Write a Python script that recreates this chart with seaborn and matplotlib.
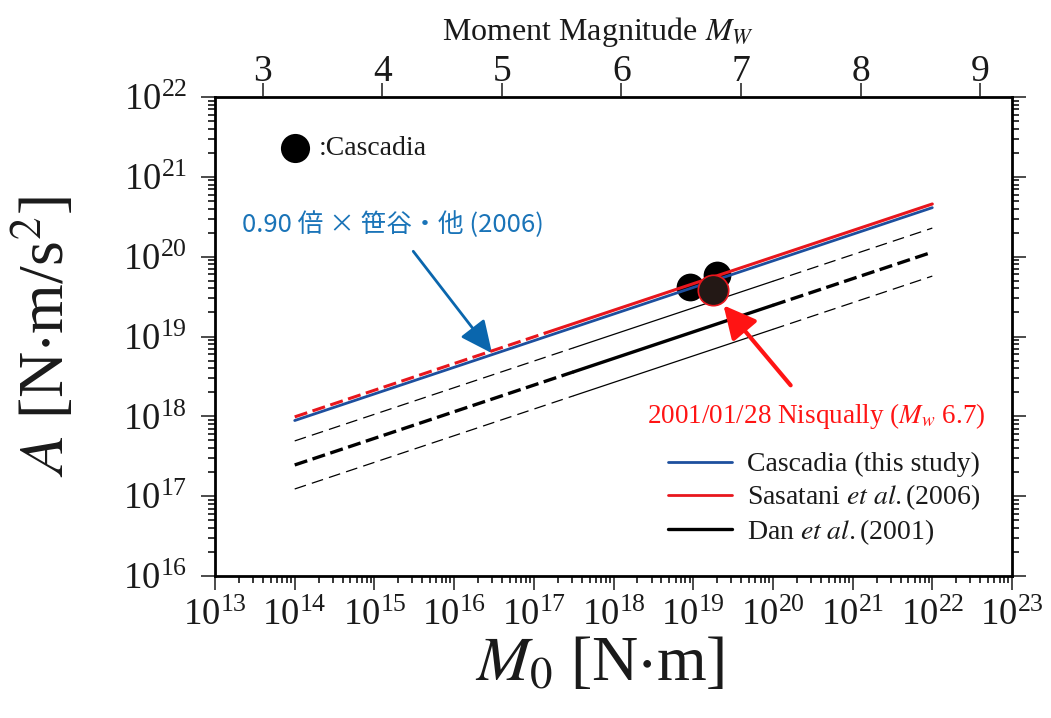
import numpy as np
import pandas as pd
import matplotlib
matplotlib.use("Agg")
import matplotlib.pyplot as plt
import seaborn as sns
from matplotlib.lines import Line2D
from matplotlib.ticker import LogLocator, NullFormatter, LogFormatterMathtext

# Seismic moment M0 [N·m] at the ends / style breaks of each scaling line,
# with the matching acceleration-source level A [N·m/s^2]
dan_m0 = [1e14, 10**17.5, 1e20, 1e22]
dan_a = [2.46e17, 3.61e18, 2.46e19, 1.14e20]
dan_hi_a = [4.92e17, 7.22e18, 4.92e19, 2.28e20]
dan_lo_a = [1.23e17, 1.81e18, 1.23e19, 5.71e19]
sasatani_m0 = [1e14, 10**17.15, 1e22]
sasatani_a = [9.84e17, 1.11e19, 4.57e20]
cascadia_m0 = [1e14, 1e22]
cascadia_a = [8.86e17, 4.11e20]

# Cascadia events
event_m0 = [9.1e18, 1.97e19]
event_a = [4.2e19, 5.9e19]
nisqually_m0 = [1.76e19]
nisqually_a = [3.8e19]

mw_ticks = [3, 4, 5, 6, 7, 8, 9]
legend_labels = ["Cascadia (this study)",
                 r"Sasatani $\it{et\ al.}$(2006)",
                 r"Dan $\it{et\ al.}$(2001)"]

BLUE = "#1d4f9e"
RED = "#e8161d"
NOTE_BLUE = "#1a74b8"
ARROW_BLUE = "#0a66ad"
DOT = "#231815"
INK = "#1a1a1a"

sns.set_theme(style="ticks")
plt.rcParams["font.family"] = ["Liberation Serif", "Noto Sans CJK JP", "DejaVu Sans"]
plt.rcParams["mathtext.fontset"] = "stix"
plt.rcParams["lines.scale_dashes"] = False
plt.rcParams["axes.edgecolor"] = "black"
plt.rcParams["text.color"] = INK

fig = plt.figure(figsize=(10.51, 7.18), dpi=100)
ax = fig.add_axes([215 / 1051, 1 - 576 / 718, (1012 - 215) / 1051, (576 - 97) / 718])
ax.set_xscale("log")
ax.set_yscale("log")
ax.set_xlim(1e13, 1e23)
ax.set_ylim(1e16, 1e22)


def segment(xs, ys, **kw):
    df = pd.DataFrame({"M0": xs, "A": ys})
    sns.lineplot(data=df, x="M0", y="A", ax=ax, estimator=None, sort=False,
                 legend=False, **kw)


thin_dash = (0, (8.5, 4.5))
thick_dash = (0, (9.5, 4.0))
red_dash = (0, (9.5, 4.0))

# Dan et al. (2001): dashed outside the fitted range, solid inside
for ys, lw, dash in [(dan_hi_a, 0.9, thin_dash), (dan_lo_a, 0.9, thin_dash),
                     (dan_a, 2.4, thick_dash)]:
    segment(dan_m0[0:2], ys[0:2], color="black", lw=lw, linestyle=dash)
    segment(dan_m0[1:3], ys[1:3], color="black", lw=lw, linestyle="-")
    segment(dan_m0[2:4], ys[2:4], color="black", lw=lw, linestyle=dash)

# Cascadia events
sns.scatterplot(x=event_m0, y=event_a, ax=ax, s=400, color="black",
                edgecolor="black", linewidth=0, zorder=3, legend=False)

# Cascadia scaling and Sasatani et al. (2006)
segment(cascadia_m0, cascadia_a, color=BLUE, lw=2.0, linestyle="-", zorder=4)
segment(sasatani_m0[0:2], sasatani_a[0:2], color=RED, lw=2.2, linestyle=red_dash, zorder=4)
segment(sasatani_m0[1:3], sasatani_a[1:3], color=RED, lw=2.2, linestyle="-", zorder=4)

# 2001 Nisqually event
sns.scatterplot(x=nisqually_m0, y=nisqually_a, ax=ax, s=480, color=DOT,
                edgecolor=RED, linewidth=1.2, zorder=5, legend=False)

# symbol key
sns.scatterplot(x=[10**14.0], y=[10**21.36], ax=ax, s=440, color="black",
                linewidth=0, zorder=5, legend=False)
ax.text(10**14.3, 10**21.36, ":Cascadia", fontsize=20, va="center", ha="left",
        color=INK)

# annotations
ax.annotate("0.90 倍 × 笹谷・他 (2006)", xy=(10**16.476, 10**18.79),
            xytext=(10**15.23, 10**20.40), ha="center", va="center",
            fontsize=18.5, color=NOTE_BLUE, family=["Noto Sans CJK JP"],
            arrowprops=dict(arrowstyle="-|>,head_length=0.9,head_width=0.42",
                            color=ARROW_BLUE, lw=2.0, shrinkA=9, shrinkB=0,
                            mutation_scale=22))
ax.annotate(r"2001/01/28 Nisqually ($M_w$ 6.7)", xy=(10**19.38, 10**19.39),
            xytext=(10**20.55, 10**18.0), ha="center", va="center",
            fontsize=19.5, color="#ff1414",
            arrowprops=dict(arrowstyle="-|>,head_length=0.9,head_width=0.45",
                            color="#ff1414", lw=3.0, shrinkA=12, shrinkB=0,
                            mutation_scale=22))

# legend
handles = [Line2D([], [], color=BLUE, lw=2.0),
           Line2D([], [], color=RED, lw=2.0),
           Line2D([], [], color="black", lw=2.4)]
ax.legend(handles, legend_labels, loc="upper left",
          bbox_to_anchor=(668 / 1051, 1 - 452 / 718), bbox_transform=fig.transFigure,
          frameon=False, fontsize=20, handlelength=2.3, handletextpad=0.55,
          labelspacing=0.18, borderpad=0, borderaxespad=0)

# axes styling
for side in ["left", "right", "bottom", "top"]:
    ax.spines[side].set_linewidth(2.0)
    ax.spines[side].set_color("black")
ax.xaxis.set_major_locator(LogLocator(base=10, numticks=20))
ax.xaxis.set_minor_locator(LogLocator(base=10, subs=np.arange(2, 10), numticks=20))
ax.yaxis.set_major_locator(LogLocator(base=10, numticks=20))
ax.yaxis.set_minor_locator(LogLocator(base=10, subs=np.arange(2, 10), numticks=20))
ax.xaxis.set_major_formatter(LogFormatterMathtext())
ax.yaxis.set_major_formatter(LogFormatterMathtext())
ax.xaxis.set_minor_formatter(NullFormatter())
ax.yaxis.set_minor_formatter(NullFormatter())
ax.tick_params(which="both", direction="out", left=True, right=True,
               bottom=True, top=False, color="black", width=1.1)
ax.tick_params(which="major", length=10, labelsize=26.5, colors=INK)
ax.tick_params(axis="x", which="major", pad=6)
ax.tick_params(axis="y", which="major", pad=10)
ax.tick_params(which="minor", length=5)
ax.set_xlabel(r"$M_0$ [N$\cdot$m]", fontsize=46, color=INK)
ax.set_ylabel(r"$A$ [N$\cdot$m/s$^2$]", fontsize=46, color=INK)
ax.xaxis.set_label_coords(0.483, -0.125)
ax.yaxis.set_label_coords(-0.172, 0.5)

# moment magnitude scale along the top
ax2 = ax.twiny()
ax2.set_xlim((13 - 9.1) / 1.5, (23 - 9.1) / 1.5)
ax2.set_xticks(mw_ticks)
ax2.set_xticklabels([str(t) for t in mw_ticks])
ax2.tick_params(axis="x", direction="out", length=10, width=1.1, labelsize=27,
                pad=-4, colors=INK)
ax2.tick_params(axis="x", which="minor", top=False, bottom=False)
for side in ax2.spines:
    ax2.spines[side].set_visible(False)
ax2.set_xlabel(r"Moment Magnitude $M_W$", fontsize=23, color=INK)
ax2.xaxis.set_label_coords(0.48, 1.118)

fig.savefig("out.png", dpi=100, facecolor="white")
